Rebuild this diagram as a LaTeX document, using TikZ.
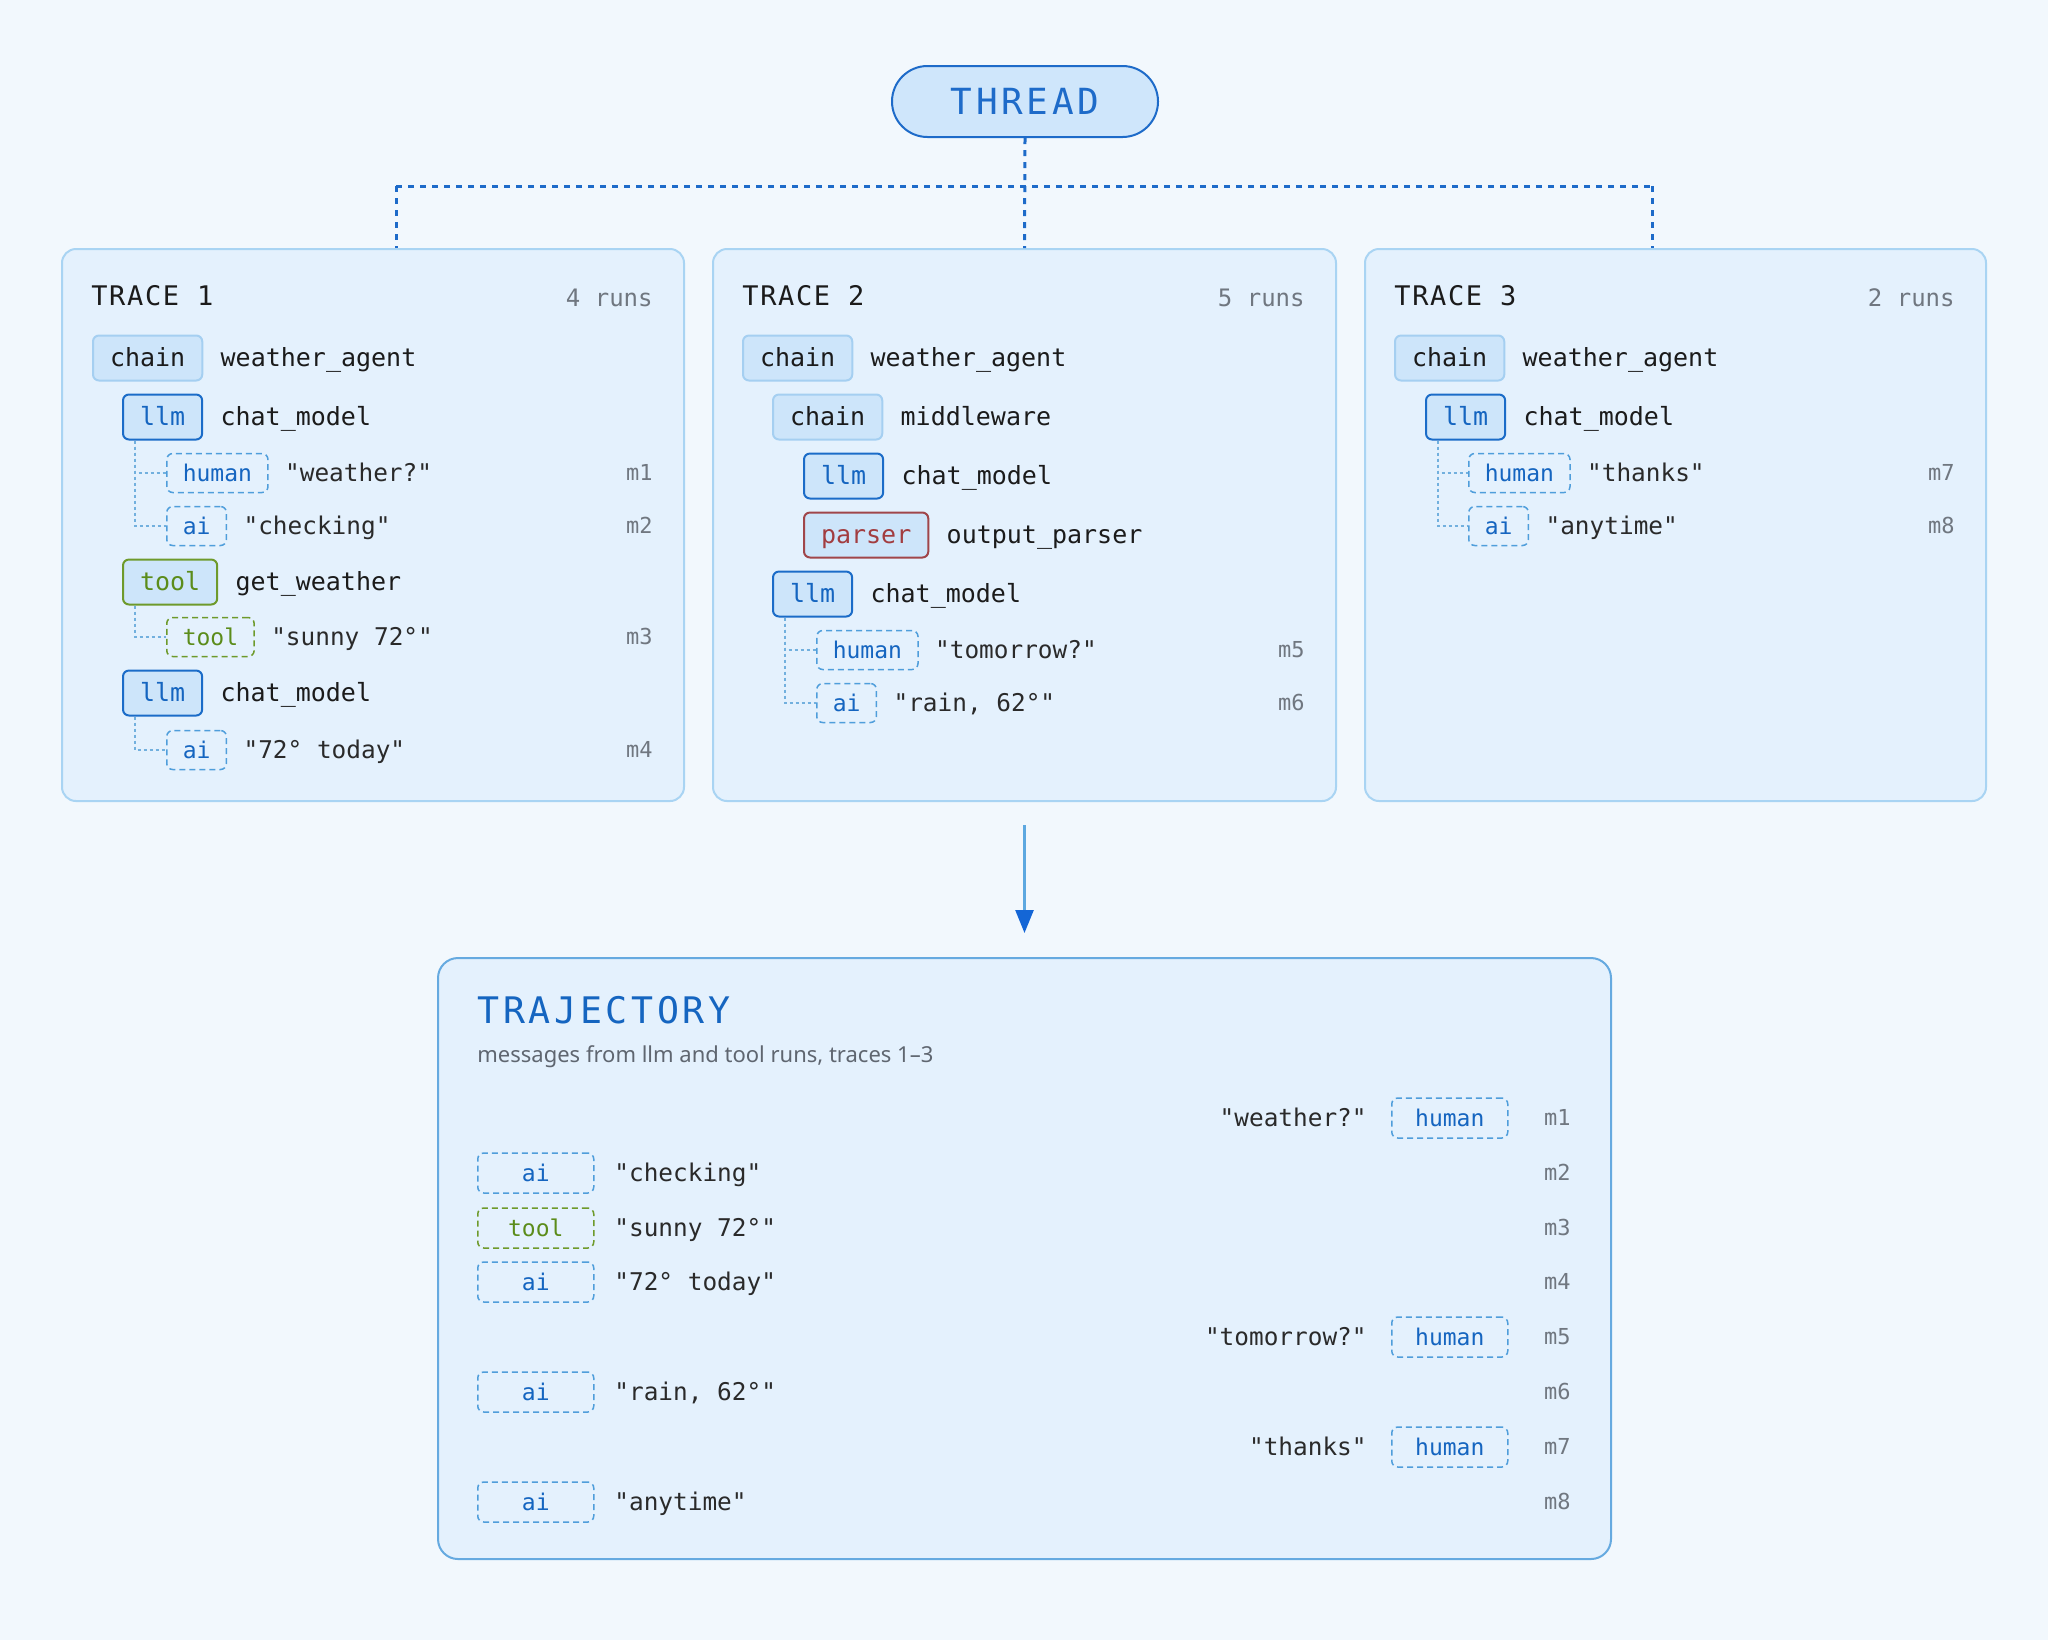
\documentclass[tikz,border=0pt]{standalone}
\usepackage{fontspec}
\setmainfont{Noto Sans}
\newfontfamily\monof{DejaVu Sans Mono}
\newfontfamily\monotitle[LetterSpace=10]{DejaVu Sans Mono}
\newfontfamily\monohead[LetterSpace=6]{DejaVu Sans Mono}
\usetikzlibrary{arrows.meta}
\definecolor{bg}{HTML}{F2F8FD}
\definecolor{boxfill}{HTML}{E4F1FD}
\definecolor{boxline}{HTML}{A9D4F3}
\definecolor{trajline}{HTML}{66AAE0}
\definecolor{chipfill}{HTML}{CDE5FA}
\definecolor{chainline}{HTML}{A5CFF1}
\definecolor{llmline}{HTML}{1B6CC8}
\definecolor{llmtext}{HTML}{1565C0}
\definecolor{toolline}{HTML}{6E9A2B}
\definecolor{tooltext}{HTML}{5B8C1A}
\definecolor{parserline}{HTML}{A0464A}
\definecolor{parsertext}{HTML}{A23D40}
\definecolor{msgline}{HTML}{4F9EDB}
\definecolor{treeline}{HTML}{72B0DE}
\definecolor{threadblue}{HTML}{1E6BC9}
\definecolor{threadfill}{HTML}{CFE6FB}
\definecolor{arrowline}{HTML}{5DA8E0}
\definecolor{arrowhead}{HTML}{1466D6}
\definecolor{ink}{HTML}{1B1B1B}
\definecolor{ink2}{HTML}{2A2A2A}
\definecolor{graytxt}{HTML}{707780}
\definecolor{subgray}{HTML}{5F6670}
\tikzset{
  tracebox/.style={draw=boxline, line width=1pt, fill=boxfill, rounded corners=7pt, inner sep=0pt, anchor=north west},
  runbadge/.style={rounded corners=3pt, line width=1pt, inner xsep=8.5pt, inner ysep=0pt, minimum height=22.5pt, text height=10.5pt, text depth=2pt, font=\monof\fontsize{12.5}{15}\selectfont, fill=chipfill, anchor=west},
  chainb/.style={runbadge, draw=chainline, text=ink},
  llmb/.style={runbadge, draw=llmline, text=llmtext},
  toolb/.style={runbadge, draw=toolline, text=tooltext},
  parserb/.style={runbadge, draw=parserline, text=parsertext},
  msgbadge/.style={rounded corners=3pt, line width=0.75pt, dash pattern=on 3pt off 2pt, inner xsep=8pt, inner ysep=0pt, minimum height=19.5pt, text height=9.5pt, text depth=1.5pt, font=\monof\fontsize{11.5}{14}\selectfont, anchor=west},
  humanb/.style={msgbadge, draw=msgline, text=llmtext},
  toolmb/.style={msgbadge, draw=toolline, text=tooltext},
  trajb/.style={msgbadge, minimum width=58pt, inner xsep=0pt, minimum height=20pt},
  nametext/.style={inner sep=0pt, anchor=west, text height=10.5pt, text depth=2pt, font=\monof\fontsize{12.5}{15}\selectfont, text=ink},
  msgtext/.style={inner sep=0pt, anchor=west, text height=10.5pt, text depth=2pt, font=\monof\fontsize{12.2}{15}\selectfont, text=ink2},
  mlabel/.style={inner sep=0pt, anchor=east, text height=9pt, text depth=1.5pt, font=\monof\fontsize{11}{13}\selectfont, text=graytxt},
  runslabel/.style={inner sep=0pt, anchor=east, text height=10.5pt, text depth=0.5pt, font=\monof\fontsize{12}{14}\selectfont, text=graytxt},
  tracehead/.style={inner sep=0pt, anchor=west, text height=10.5pt, text depth=0pt, font=\monohead\fontsize{13.5}{16}\selectfont, text=ink},
  tree/.style={draw=treeline, line width=0.75pt, dash pattern=on 1.5pt off 1.5pt},
  threadline/.style={draw=threadblue, line width=1.5pt, dash pattern=on 3pt off 3pt},
}
\newcommand\runrow[6]{%
  \node[#2] (#1) at (#3,#4) {#5};
  \node[nametext] (#1n) at ([xshift=8.5pt]#1.east) {#6};}
\begin{document}
\begin{tikzpicture}[x=0.5pt,y=-0.5pt]
\fill[bg] (0,0) rectangle (2048,1640);
\useasboundingbox (0,0) rectangle (2048,1640);

% THREAD
\node[draw=threadblue, line width=1pt, fill=threadfill, rounded corners=17.75pt,
      minimum width=133pt, minimum height=35.5pt, inner sep=0pt, text=threadblue,
      font=\monotitle\fontsize{18}{22}\selectfont] (thread) at (1025,101.5) {THREAD};

% trace boxes
\node[tracebox, minimum width=311pt, minimum height=276pt] (t1) at (61,248) {};
\node[tracebox, minimum width=311.5pt, minimum height=276pt] (t2) at (712,248) {};
\node[tracebox, minimum width=310.5pt, minimum height=276pt] (t3) at (1364,248) {};

% thread connectors
\coordinate (j1) at (396,186);
\coordinate (j3) at (1652,186);
\draw[threadline] (thread.south) -- (t2.north);
\draw[threadline] (j1) -- (j3);
\draw[threadline] (j1) -- (t1.north -| j1);
\draw[threadline] (j3) -- (t3.north -| j3);

% ---------- TRACE 1
\node[tracehead] (h1) at (91,295) {TRACE 1};
\node[runslabel] (r1) at (653,296) {4 runs};
\runrow{a1}{chainb}{92}{358}{chain}{weather\_agent}
\runrow{a2}{llmb}{122}{417}{llm}{chat\_model}
\node[humanb] (a3) at (166,473) {human};
\node[msgtext] (a3t) at ([xshift=8pt]a3.east) {"weather?"};
\node[mlabel] (a3m) at (653,473) {m1};
\node[humanb] (a4) at (166,526) {ai};
\node[msgtext] (a4t) at ([xshift=8pt]a4.east) {"checking"};
\node[mlabel] (a4m) at (653,526) {m2};
\runrow{a5}{toolb}{122}{582}{tool}{get\_weather}
\node[toolmb] (a6) at (166,637) {tool};
\node[msgtext] (a6t) at ([xshift=8pt]a6.east) {"sunny 72°"};
\node[mlabel] (a6m) at (653,637) {m3};
\runrow{a7}{llmb}{122}{693}{llm}{chat\_model}
\node[humanb] (a8) at (166,750) {ai};
\node[msgtext] (a8t) at ([xshift=8pt]a8.east) {"72° today"};
\node[mlabel] (a8m) at (653,750) {m4};
\draw[tree] ([xshift=6.5pt]a2.south west) |- (a3.west);
\draw[tree] ([xshift=6.5pt]a2.south west) |- (a4.west);
\draw[tree] ([xshift=6.5pt]a5.south west) |- (a6.west);
\draw[tree] ([xshift=6.5pt]a7.south west) |- (a8.west);

% ---------- TRACE 2
\node[tracehead] (h2) at (742,295) {TRACE 2};
\node[runslabel] (r2) at (1305,296) {5 runs};
\runrow{b1}{chainb}{742}{358}{chain}{weather\_agent}
\runrow{b2}{chainb}{772}{417}{chain}{middleware}
\runrow{b3}{llmb}{803}{476}{llm}{chat\_model}
\runrow{b4}{parserb}{803}{535}{parser}{output\_parser}
\runrow{b5}{llmb}{772}{594}{llm}{chat\_model}
\node[humanb] (b6) at (816,650) {human};
\node[msgtext] (b6t) at ([xshift=8pt]b6.east) {"tomorrow?"};
\node[mlabel] (b6m) at (1305,650) {m5};
\node[humanb] (b7) at (816,703) {ai};
\node[msgtext] (b7t) at ([xshift=8pt]b7.east) {"rain, 62°"};
\node[mlabel] (b7m) at (1305,703) {m6};
\draw[tree] ([xshift=6.5pt]b5.south west) |- (b6.west);
\draw[tree] ([xshift=6.5pt]b5.south west) |- (b7.west);

% ---------- TRACE 3
\node[tracehead] (h3) at (1394,295) {TRACE 3};
\node[runslabel] (r3) at (1955,296) {2 runs};
\runrow{c1}{chainb}{1394}{358}{chain}{weather\_agent}
\runrow{c2}{llmb}{1425}{417}{llm}{chat\_model}
\node[humanb] (c3) at (1468,473) {human};
\node[msgtext] (c3t) at ([xshift=8pt]c3.east) {"thanks"};
\node[mlabel] (c3m) at (1955,473) {m7};
\node[humanb] (c4) at (1468,526) {ai};
\node[msgtext] (c4t) at ([xshift=8pt]c4.east) {"anytime"};
\node[mlabel] (c4m) at (1955,526) {m8};
\draw[tree] ([xshift=6.5pt]c2.south west) |- (c3.west);
\draw[tree] ([xshift=6.5pt]c2.south west) |- (c4.west);

% ---------- TRAJECTORY
\node[draw=trajline, line width=1pt, fill=boxfill, rounded corners=10pt, inner sep=0pt,
      anchor=north west, minimum width=586.5pt, minimum height=300.5pt] (traj) at (437,957) {};
\draw[line width=1.25pt, draw=arrowline, -{Triangle[length=11.5pt,width=9pt,color=arrowhead]}]
  ([yshift=-11.5pt]t2.south) -- ([yshift=12pt]traj.north);
\node[inner sep=0pt, anchor=west, text=llmtext, font=\monotitle\fontsize{18.3}{22}\selectfont] (tt) at (477,1010) {TRAJECTORY};
\node[inner sep=0pt, anchor=west, text=subgray, font=\fontsize{11}{13}\selectfont] (ts) at (477,1057) {messages from llm and tool runs, traces 1–3};

\node[trajb, draw=msgline, text=llmtext] (q1) at (1391,1118) {human};
\node[msgtext, anchor=east] (q1t) at (1367,1118) {"weather?"};
\node[mlabel] (q1m) at (1571,1118) {m1};
\node[trajb, draw=msgline, text=llmtext] (q2) at (477,1173) {ai};
\node[msgtext] (q2t) at (614,1173) {"checking"};
\node[mlabel] (q2m) at (1571,1173) {m2};
\node[trajb, draw=toolline, text=tooltext] (q3) at (477,1228) {tool};
\node[msgtext] (q3t) at (614,1228) {"sunny 72°"};
\node[mlabel] (q3m) at (1571,1228) {m3};
\node[trajb, draw=msgline, text=llmtext] (q4) at (477,1282) {ai};
\node[msgtext] (q4t) at (614,1282) {"72° today"};
\node[mlabel] (q4m) at (1571,1282) {m4};
\node[trajb, draw=msgline, text=llmtext] (q5) at (1391,1337) {human};
\node[msgtext, anchor=east] (q5t) at (1367,1337) {"tomorrow?"};
\node[mlabel] (q5m) at (1571,1337) {m5};
\node[trajb, draw=msgline, text=llmtext] (q6) at (477,1392) {ai};
\node[msgtext] (q6t) at (614,1392) {"rain, 62°"};
\node[mlabel] (q6m) at (1571,1392) {m6};
\node[trajb, draw=msgline, text=llmtext] (q7) at (1391,1447) {human};
\node[msgtext, anchor=east] (q7t) at (1367,1447) {"thanks"};
\node[mlabel] (q7m) at (1571,1447) {m7};
\node[trajb, draw=msgline, text=llmtext] (q8) at (477,1502) {ai};
\node[msgtext] (q8t) at (614,1502) {"anytime"};
\node[mlabel] (q8m) at (1571,1502) {m8};
\end{tikzpicture}
\end{document}
